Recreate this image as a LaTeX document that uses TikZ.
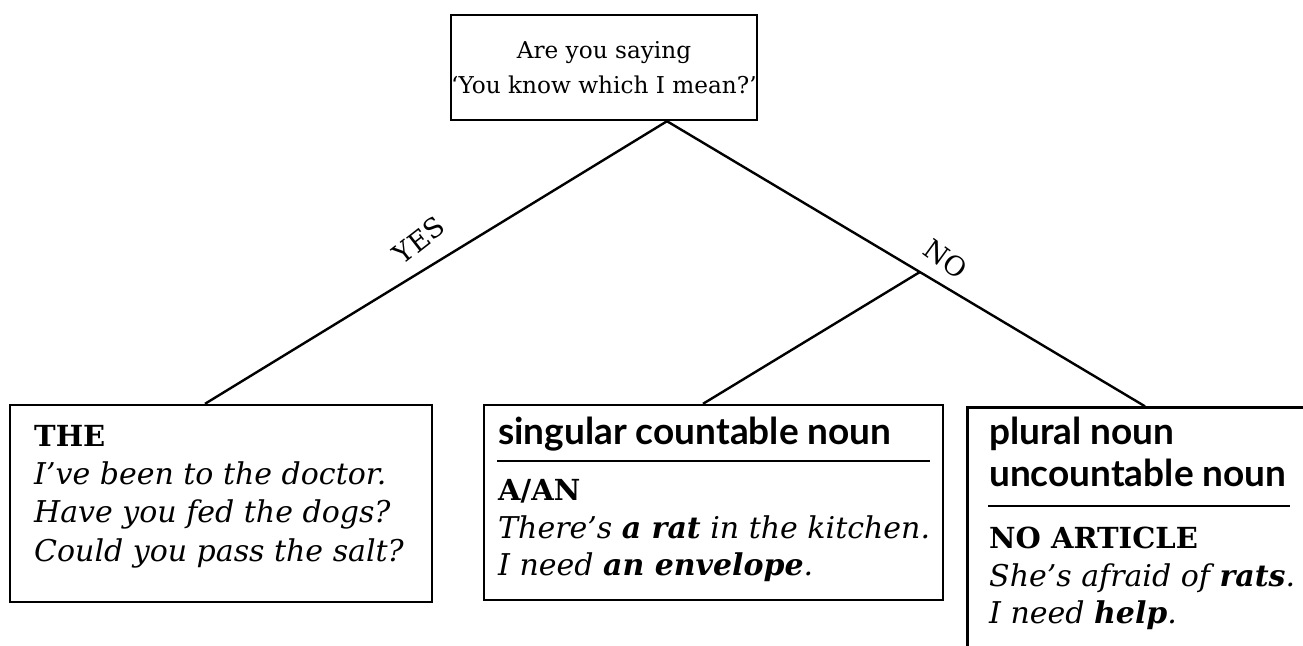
\documentclass[tikz,border=0pt]{standalone}
\usepackage{fontspec}
\setmainfont{DejaVu Serif}
\newfontfamily\sansf{Lato}
\usetikzlibrary{calc}
\begin{document}
\begin{tikzpicture}[x=0.5pt,y=-0.5pt, line width=1.2pt,
  box/.style={draw, rectangle, inner sep=0pt},
  ln/.style={anchor=base west, inner sep=0pt, font=\itshape\fontsize{15}{18}\selectfont},
  capline/.style={anchor=base west, inner sep=0pt, font=\bfseries\fontsize{14.5}{18}\selectfont},
  hd/.style={anchor=base west, inner sep=0pt, font=\sansf\bfseries\fontsize{18.5}{20}\selectfont},
  lbl/.style={inner sep=1pt, font=\fontsize{13.5}{15}\selectfont}]
\useasboundingbox (0,0) rectangle (1303,645);
\clip (0,0) rectangle (1303,645);
% boxes
\node[box, minimum width=153pt, minimum height=52.5pt, align=center,
      font=\fontsize{11.6}{17.5}\selectfont] (q) at (604,67.5)
      {Are you saying\\`You know which I mean?'};
\node[box, minimum width=211pt, minimum height=98.5pt] (b1) at (221,503.5) {};
\node[box, minimum width=229.5pt, minimum height=97.5pt] (b2) at (713.5,502.5) {};
\node[box, minimum width=186.5pt, minimum height=136.5pt] (b3) at (1154,544) {};
% connectors
\coordinate (apex) at ([xshift=31.5pt]q.south);
\coordinate (t1) at ([xshift=-8pt]b1.north);
\coordinate (t2) at ([xshift=-5.25pt]b2.north);
\coordinate (t3) at ([xshift=-4.5pt]b3.north);
\coordinate (br) at ($(apex)!0.529!(t3)$);
\draw (t1) -- (apex);
\draw (apex) -- (t3);
\draw (t2) -- (br);
\node[lbl, rotate=38] (yes) at (419,240) {YES};
\node[lbl, rotate=-36] (no) at (946,259) {NO};
% box 1
\node[capline] (b1a) at (33,446) {THE};
\node[ln] (b1b) at (33,484) {I've been to the doctor.};
\node[ln] (b1c) at (33,522) {Have you fed the dogs?};
\node[ln] (b1d) at (33,561) {Could you pass the salt?};
% box 2
\node[hd] (b2a) at (497,444) {singular countable noun};
\draw[line width=1pt] (497,461) -- (930,461);
\node[capline] (b2b) at (497,500) {A/AN};
\node[ln] (b2c) at (497,538) {There's \textbf{a rat} in the kitchen.};
\node[ln] (b2d) at (497,575) {I need \textbf{an envelope}.};
% box 3
\node[hd] (b3a) at (988,444) {plural noun};
\node[hd] (b3b) at (988,486) {uncountable noun};
\draw[line width=1pt] (988,506) -- (1290,506);
\node[capline] (b3c) at (988,548) {NO ARTICLE};
\node[ln] (b3d) at (988,586) {She's afraid of \textbf{rats}.};
\node[ln] (b3e) at (988,623) {I need \textbf{help}.};
\end{tikzpicture}
\end{document}
